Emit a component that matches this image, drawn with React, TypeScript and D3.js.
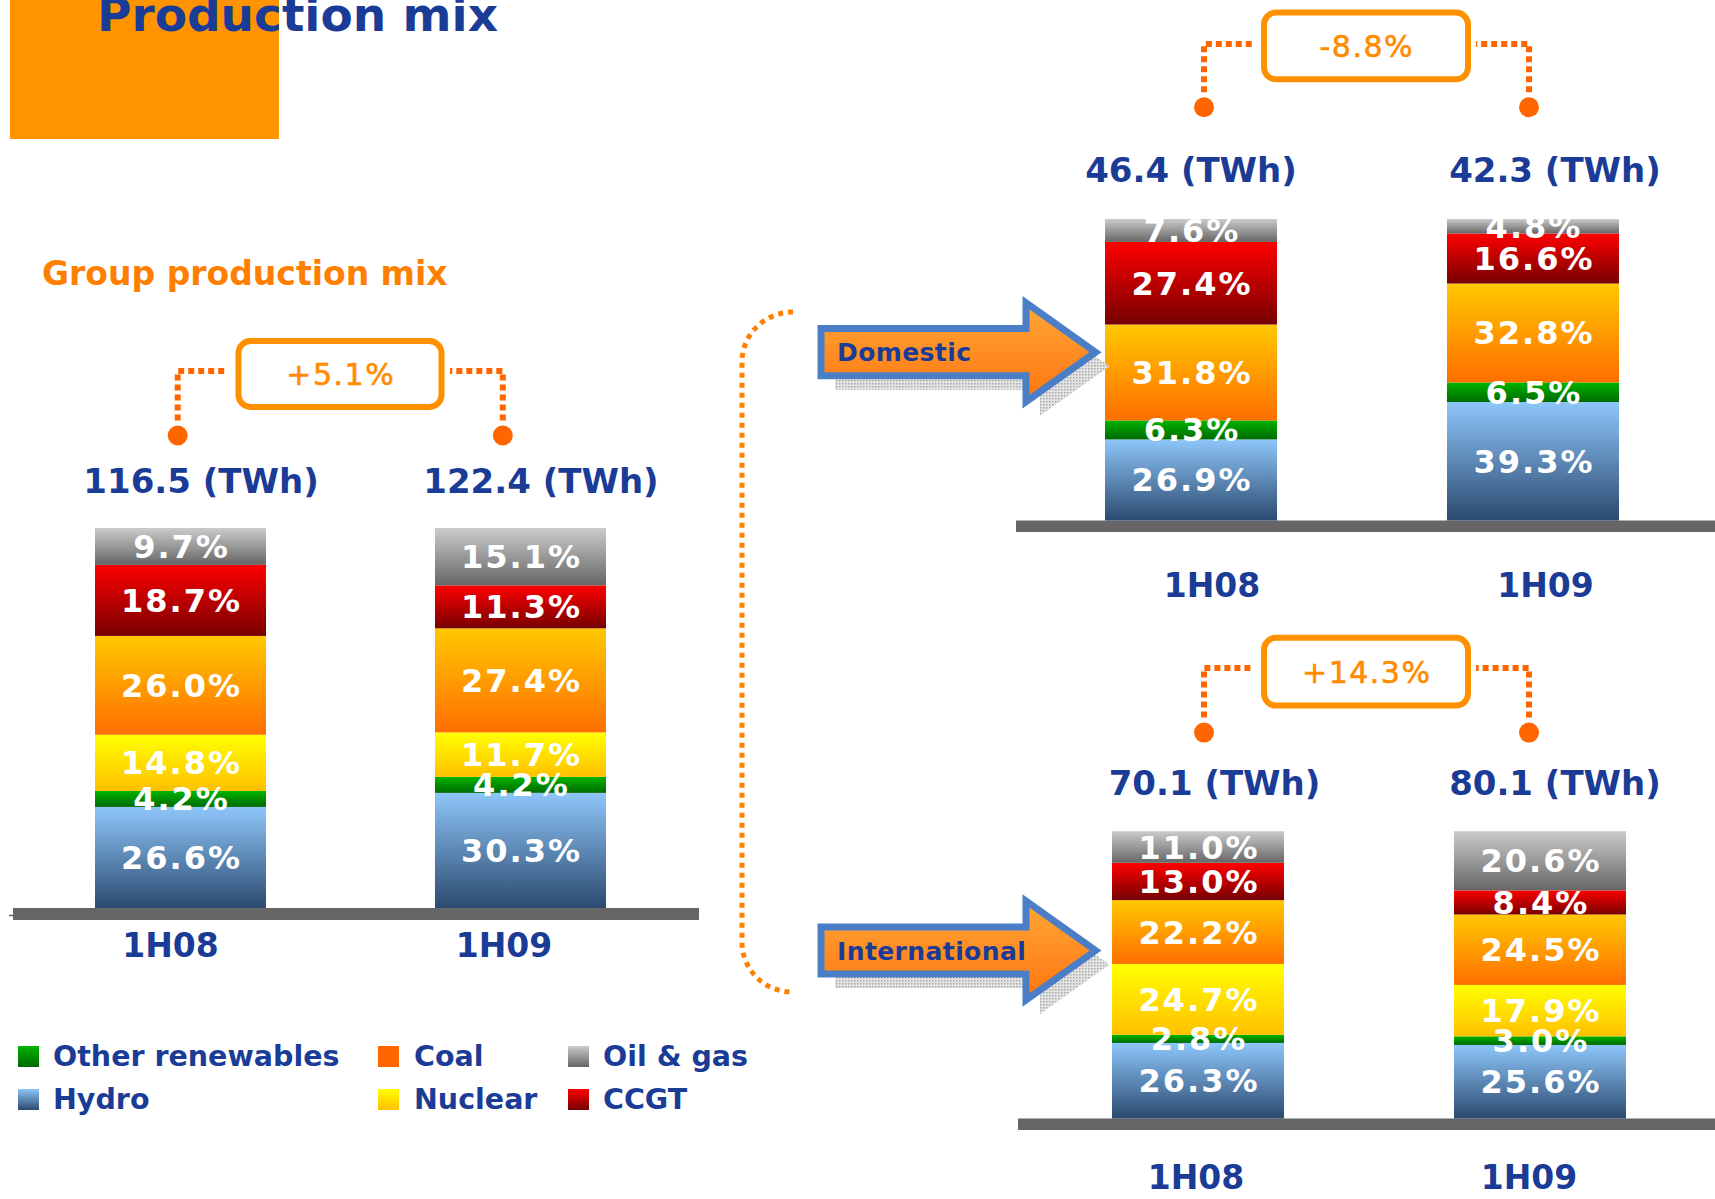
import React from "react";
import * as d3 from "d3";

// ---------- data ----------
const seriesNames = ["Hydro", "Other renewables", "Nuclear", "Coal", "CCGT", "Oil & gas"];
const periods = ["1H08", "1H09"];

const group1H08 = [26.6, 4.2, 14.8, 26.0, 18.7, 9.7];
const group1H09 = [30.3, 4.2, 11.7, 27.4, 11.3, 15.1];
const domestic1H08 = [26.9, 6.3, 0, 31.8, 27.4, 7.6];
const domestic1H09 = [39.3, 6.5, 0, 32.8, 16.6, 4.8];
const international1H08 = [26.3, 2.8, 24.7, 22.2, 13.0, 11.0];
const international1H09 = [25.6, 3.0, 17.9, 24.5, 8.4, 20.6];

const groupTotals = [116.5, 122.4];
const domesticTotals = [46.4, 42.3];
const internationalTotals = [70.1, 80.1];
const changeLabels = ["+5.1%", "-8.8%", "+14.3%"];

const legendRows = [
  ["Other renewables", "Coal", "Oil & gas"],
  ["Hydro", "Nuclear", "CCGT"],
];

// ---------- styles ----------
const FONT = "'DejaVu Sans', Verdana, sans-serif";
const BLUE = "#1A3C96";
const gradStops: Record<string, [string, string]> = {
  Hydro: ["#8EC6FA", "#2B4A6F"],
  "Other renewables": ["#00B400", "#006A00"],
  Nuclear: ["#FFFF00", "#FFC000"],
  Coal: ["#FFC800", "#FF6E00"],
  CCGT: ["#FF0000", "#760000"],
  "Oil & gas": ["#CBCBCB", "#666666"],
};
const legendFill: Record<string, string> = {
  Coal: "#FF6600",
};
const gid = (s: string) => "g_" + s.replace(/[^a-zA-Z]/g, "");

function makeRows(a: number[], b: number[]) {
  return periods.map((p, i) => {
    const row: any = { period: p };
    seriesNames.forEach((s, j) => (row[s] = [a, b][i][j]));
    return row;
  });
}

const charts = [
  {
    rows: makeRows(group1H08, group1H09),
    totals: groupTotals,
    change: changeLabels[0],
    xRange: [95, 606],
    yRange: [908, 528],
    axis: { x0: 13, x1: 699, y: 908, h: 12 },
    totalY: 493,
    totalDx: [20.5, 20.5],
    catY: 957,
    catDx: [-10, -16.5],
    conn: { y: 371, dotY: 435.5, xs: [177.7, 502.8], ends: [228, 450] },
    box: { x: 238.5, y: 341, w: 203, h: 66 },
    changeY: 384.5,
  },
  {
    rows: makeRows(domestic1H08, domestic1H09),
    totals: domesticTotals,
    change: changeLabels[1],
    xRange: [1105, 1619],
    yRange: [520.5, 219],
    axis: { x0: 1016, x1: 1715, y: 520.5, h: 11.5 },
    totalY: 182,
    totalDx: [0, 22],
    catY: 596.7,
    catDx: [21, 12.5],
    conn: { y: 44, dotY: 107.2, xs: [1204, 1529], ends: [1254, 1476] },
    box: { x: 1264, y: 12.6, w: 204, h: 66.7 },
    changeY: 57.4,
  },
  {
    rows: makeRows(international1H08, international1H09),
    totals: internationalTotals,
    change: changeLabels[2],
    xRange: [1112, 1626],
    yRange: [1118.5, 831.2],
    axis: { x0: 1018, x1: 1715, y: 1118.5, h: 11.5 },
    totalY: 795.4,
    totalDx: [16.5, 15],
    catY: 1189.3,
    catDx: [-2, -11],
    conn: { y: 668, dotY: 732.6, xs: [1204, 1529], ends: [1254, 1476] },
    box: { x: 1264, y: 637.8, w: 204, h: 67.8 },
    changeY: 682.8,
  },
];

const stackGen = d3.stack<any>().keys(seriesNames);

function Chart({ c }: { c: (typeof charts)[number] }) {
  const x = d3.scaleBand().domain(periods).range(c.xRange as [number, number]).paddingInner(0.497).paddingOuter(0);
  const y = d3.scaleLinear().domain([0, 100]).range(c.yRange as [number, number]);
  const layers = stackGen(c.rows);
  const bw = x.bandwidth();
  const boxCx = c.box.x + c.box.w / 2;
  return (
    <g>
      {/* axis */}
      <rect x={c.axis.x0} y={c.axis.y} width={c.axis.x1 - c.axis.x0} height={c.axis.h} fill="#666666" />
      {/* bars */}
      {layers.map((layer) =>
        layer.map((d, i) => {
          if (d[1] - d[0] <= 0) return null;
          return (
            <rect
              key={layer.key + i}
              x={x(d.data.period)}
              y={y(d[1])}
              width={bw}
              height={y(d[0]) - y(d[1])}
              fill={`url(#${gid(layer.key)})`}
            />
          );
        })
      )}
      {/* value labels */}
      {layers.map((layer) =>
        layer.map((d, i) => {
          const v = d[1] - d[0];
          if (v <= 0) return null;
          const cx = (x(d.data.period) as number) + bw / 2;
          const cy = (y(d[0]) + y(d[1])) / 2;
          return (
            <text
              key={"l" + layer.key + i}
              x={cx + 1}
              y={cy + 11.5}
              textAnchor="middle"
              fill="#FFFFFF"
              fontFamily={FONT}
              fontWeight="bold"
              fontSize={32}
              letterSpacing={2}
            >
              {v.toFixed(1) + "%"}
            </text>
          );
        })
      )}
      {/* totals */}
      {periods.map((p, i) => (
        <text
          key={"t" + p}
          x={(x(p) as number) + bw / 2 + c.totalDx[i]}
          y={c.totalY}
          textAnchor="middle"
          fill={BLUE}
          fontFamily={FONT}
          fontWeight="bold"
          fontSize={34}
        >
          {c.totals[i].toFixed(1) + " (TWh)"}
        </text>
      ))}
      {/* category labels */}
      {periods.map((p, i) => (
        <text
          key={"c" + p}
          x={(x(p) as number) + bw / 2 + c.catDx[i]}
          y={c.catY}
          textAnchor="middle"
          fill={BLUE}
          fontFamily={FONT}
          fontWeight="bold"
          fontSize={33}
        >
          {p}
        </text>
      ))}
      {/* connectors */}
      <path
        d={`M${c.conn.xs[0]},${c.conn.dotY - 15} L${c.conn.xs[0]},${c.conn.y} L${c.conn.ends[0]},${c.conn.y}`}
        fill="none"
        stroke="#FF6600"
        strokeWidth={6}
        strokeDasharray="6 4"
      />
      <path
        d={`M${c.conn.xs[1]},${c.conn.dotY - 15} L${c.conn.xs[1]},${c.conn.y} L${c.conn.ends[1]},${c.conn.y}`}
        fill="none"
        stroke="#FF6600"
        strokeWidth={6}
        strokeDasharray="6 4"
      />
      <circle cx={c.conn.xs[0]} cy={c.conn.dotY} r={10} fill="#FF6600" />
      <circle cx={c.conn.xs[1]} cy={c.conn.dotY} r={10} fill="#FF6600" />
      <rect x={c.box.x} y={c.box.y} width={c.box.w} height={c.box.h} rx={12} ry={12} fill="#FFFFFF" stroke="#FF9100" strokeWidth={6} />
      <text
        x={boxCx + 0.75}
        y={c.changeY}
        textAnchor="middle"
        fill="#FF8C00"
        fontFamily={FONT}
        fontSize={30}
        letterSpacing={1.5}
        stroke="#FF8C00"
        strokeWidth={0.6}
      >
        {c.change}
      </text>
    </g>
  );
}

function arrowPath(cy: number) {
  return `M821,${cy - 23.6} L1026,${cy - 23.6} L1026,${cy - 49.5} L1095.5,${cy} L1026,${cy + 49.5} L1026,${cy + 23.6} L821,${cy + 23.6} Z`;
}

function Arrow({ cy, label, ty }: { cy: number; label: string; ty: number }) {
  return (
    <g>
      <path d={arrowPath(cy)} transform="translate(14,14)" fill="url(#hatch)" />
      <path d={arrowPath(cy)} fill="url(#arrowFill)" stroke="#4A7FC8" strokeWidth={7} strokeLinejoin="miter" />
      <text x={837} y={cy + ty} fill={BLUE} fontFamily={FONT} fontWeight="bold" fontSize={25} letterSpacing={0.4}>
        {label}
      </text>
    </g>
  );
}

export default function App() {
  const legendSwX = [18, 378, 568];
  const legendTxX = [53, 414, 603];
  const legendSwY = [1046, 1089];
  const legendTxY = [1066, 1108.5];
  return (
    <svg
      width={1715}
      height={1199}
      style={{ position: "absolute", left: 0, top: 0, display: "block", background: "#FFFFFF" }}
    >
      <defs>
        {seriesNames.map((s) => (
          <linearGradient key={s} id={gid(s)} x1="0" y1="0" x2="0" y2="1">
            <stop offset="0" stopColor={gradStops[s][0]} />
            <stop offset="1" stopColor={gradStops[s][1]} />
          </linearGradient>
        ))}
        <linearGradient id="arrowFill" x1="0" y1="0" x2="0" y2="1">
          <stop offset="0" stopColor="#FFA838" />
          <stop offset="1" stopColor="#FF7410" />
        </linearGradient>
        <pattern id="hatch" width="3" height="3" patternUnits="userSpaceOnUse">
          <rect width="3" height="3" fill="#E4E4E4" />
          <rect width="1.5" height="1.5" fill="#A8A8A8" />
        </pattern>
      </defs>

      {/* header */}
      <rect x={10} y={0} width={269} height={139} fill="#FF9400" />
      <text x={97} y={31} fill={BLUE} fontFamily={FONT} fontWeight="bold" fontSize={47}>
        Production mix
      </text>
      <text x={42} y={285} fill="#FF8000" fontFamily={FONT} fontWeight="bold" fontSize={33}>
        Group production mix
      </text>

      {/* dotted bracket */}
      <path
        d="M793,312 A51,50 0 0 0 742,362 L742,942 A50,50 0 0 0 792,992"
        fill="none"
        stroke="#FF8000"
        strokeWidth={5}
        strokeDasharray="5 5"
      />
      <line x1={9} x2={14} y1={915.5} y2={915.5} stroke="#666666" strokeWidth={1.5} />

      {charts.map((c, i) => (
        <Chart key={i} c={c} />
      ))}

      <Arrow cy={352.2} label="Domestic" ty={8.5} />
      <Arrow cy={950.5} label="International" ty={9.5} />

      {/* legend */}
      {legendRows.map((row, ri) =>
        row.map((s, ci) => (
          <g key={s}>
            <rect
              x={legendSwX[ci]}
              y={legendSwY[ri]}
              width={21}
              height={21}
              fill={legendFill[s] ? legendFill[s] : `url(#${gid(s)})`}
            />
            <text x={legendTxX[ci]} y={legendTxY[ri]} fill={BLUE} fontFamily={FONT} fontWeight="bold" fontSize={28.5}>
              {s}
            </text>
          </g>
        ))
      )}
    </svg>
  );
}
